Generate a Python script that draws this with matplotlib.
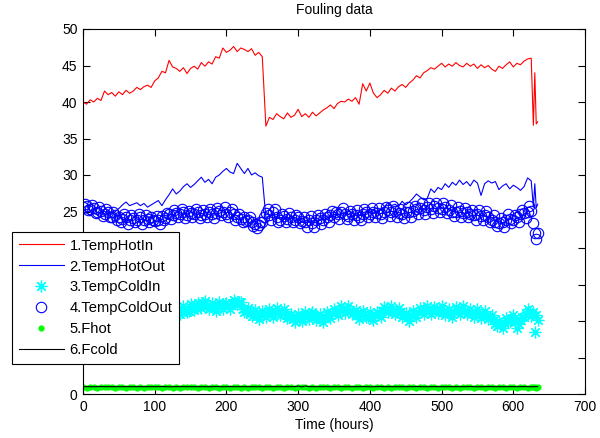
import numpy as np
import matplotlib
matplotlib.use("Agg")
import matplotlib.pyplot as plt

plt.rcParams['font.family'] = ['Liberation Sans', 'DejaVu Sans']
plt.rcParams['font.size'] = 10

# Temps de mesure (heures) : pas de 5 h, puis plus fin à la fin de l'essai
hours = list(range(0, 626, 5)) + [628, 630, 632, 634]
# Relevés intermédiaires (toutes les 5 h, décalés de 2.5 h) pour les séries à marqueurs
hours_mid = [h + 2.5 for h in range(0, 625, 5)]

temp_hot_in = [
    40.0, 39.7, 40.3, 40.0, 40.5, 40.2, 41.5, 41.0, 41.3, 40.8,
    41.4, 41.0, 41.6, 41.2, 41.5, 42.0, 41.7, 42.1, 42.3, 42.0,
    42.9, 43.3, 44.2, 44.0, 45.7, 44.8, 44.6, 44.2, 44.7, 43.9,
    44.6, 44.9, 44.5, 45.4, 44.9, 45.5, 45.2, 46.2, 46.0, 47.4,
    46.8, 47.1, 47.6, 46.9, 47.4, 47.2, 46.9, 47.3, 46.4, 46.8,
    46.2, 36.7, 37.9, 37.6, 38.4, 38.0, 37.7, 38.5, 37.9, 38.2,
    39.0, 38.0, 38.4, 37.9, 38.6, 38.1, 38.5, 38.9, 39.2, 39.6,
    39.1, 39.8, 40.1, 40.0, 40.4, 40.1, 40.6, 39.7, 42.5, 41.5,
    42.6, 41.2, 40.6, 41.0, 41.6, 41.2, 41.9, 41.5, 42.1, 42.4,
    42.0, 42.6, 43.0, 43.6, 43.3, 44.0, 44.3, 44.7, 44.5, 44.9,
    45.3, 44.8, 45.2, 44.9, 45.4, 45.0, 44.8, 45.3, 44.9, 45.2,
    44.6, 45.1, 44.7, 45.0, 44.5, 44.2, 44.9, 44.6, 45.1, 45.5,
    44.8, 45.3, 45.1, 45.6, 45.9, 46.0, 36.8, 44.0, 37.0, 37.3,
]

temp_hot_out = [
    24.6, 24.9, 24.4, 24.8, 24.5, 25.0, 24.7, 25.1, 24.6, 25.0,
    25.4, 25.9, 26.3, 25.8, 26.0, 26.2, 25.8, 26.1, 25.6, 25.9,
    26.2, 26.5, 25.8, 26.6, 27.3, 28.1, 27.4, 27.8, 28.4, 28.8,
    28.3, 28.7, 29.2, 29.7, 29.0, 29.4, 28.8, 29.7, 30.0, 30.5,
    30.9, 30.4, 30.2, 31.6, 30.9, 30.2, 30.9, 30.0, 30.3, 29.9,
    29.7, 24.2, 24.3, 24.6, 24.0, 24.2, 24.1, 23.8, 24.4, 24.0,
    23.9, 23.5, 23.8, 23.6, 23.7, 24.1, 23.9, 24.0, 24.4, 24.3,
    24.6, 24.5, 24.7, 24.8, 24.6, 24.9, 24.7, 24.5, 24.8, 25.0,
    24.9, 25.3, 25.0, 25.2, 25.6, 26.2, 25.8, 26.0, 25.7, 26.4,
    25.9, 26.3, 26.8, 27.4, 27.0, 26.6, 26.8, 28.1, 27.6, 28.3,
    28.0, 28.8, 28.3, 29.0, 28.6, 29.3, 28.7, 29.1, 28.5, 29.3,
    28.9, 27.2, 28.8, 29.2, 28.9, 29.1, 28.0, 28.5, 28.8, 28.1,
    28.6, 28.3, 27.9, 28.4, 29.6, 29.2, 25.6, 28.8, 25.5, 26.0,
]

temp_cold_in = [
    11.8, 10.9, 11.9, 11.0, 12.1, 11.2, 11.7, 10.8, 11.9, 11.1,
    11.8, 10.7, 11.6, 10.9, 12.0, 11.3, 11.9, 10.8, 11.6, 11.0,
    11.8, 10.9, 12.1, 11.2, 11.7, 10.8, 11.9, 11.0, 12.0, 11.2,
    12.3, 11.5, 12.5, 11.8, 12.7, 11.6, 12.4, 11.4, 12.6, 11.7,
    12.5, 11.6, 12.9, 12.3, 12.6, 11.2, 11.8, 10.7, 11.5, 10.3,
    11.4, 10.5, 11.6, 10.6, 11.8, 10.8, 11.6, 10.4, 11.0, 9.8,
    10.9, 10.0, 11.2, 10.3, 11.3, 10.2, 11.0, 9.9, 11.2, 10.4,
    11.6, 10.8, 12.0, 11.1, 12.1, 11.0, 11.5, 10.3, 11.4, 10.5,
    11.2, 10.1, 11.3, 10.6, 11.9, 11.2, 12.1, 11.0, 11.8, 10.6,
    11.1, 10.0, 11.4, 10.5, 11.8, 11.0, 12.0, 10.9, 11.9, 11.1,
    12.0, 10.8, 11.7, 10.6, 11.9, 11.0, 12.0, 10.9, 11.7, 10.5,
    11.6, 10.4, 11.4, 10.3, 10.8, 9.6, 10.0, 9.0, 10.4, 10.0,
    10.8, 9.0, 10.2, 10.6, 11.6, 10.7, 11.2, 8.5, 10.8, 10.2,
]
temp_cold_in_mid = [
    11.4, 11.5, 11.3, 11.6, 11.5, 11.2, 11.4, 11.5, 11.3, 11.6,
    11.2, 11.4, 11.3, 11.6, 11.5, 11.6, 11.3, 11.2, 11.4, 11.5,
    11.3, 11.6, 11.5, 11.4, 11.2, 11.4, 11.5, 11.3, 11.7, 11.4,
    11.7, 12.2, 11.9, 12.4, 12.0, 12.1, 11.8, 12.2, 11.9, 12.3,
    12.1, 12.4, 12.5, 12.6, 11.7, 11.4, 11.0, 11.2, 10.7, 10.9,
    11.1, 10.9, 11.2, 11.3, 11.1, 11.3, 10.8, 10.6, 10.3, 10.5,
    10.3, 10.7, 10.6, 10.9, 10.7, 10.6, 10.3, 10.5, 10.8, 11.1,
    11.3, 11.5, 11.7, 11.6, 11.4, 11.2, 10.9, 10.8, 10.9, 10.6,
    10.5, 10.8, 11.0, 11.4, 11.6, 11.5, 11.4, 11.3, 11.1, 10.8,
    10.5, 10.8, 11.0, 11.2, 11.4, 11.6, 11.4, 11.5, 11.6, 11.5,
    11.3, 11.2, 11.1, 11.3, 11.5, 11.4, 11.4, 11.2, 11.1, 11.0,
    11.0, 10.9, 10.7, 10.5, 10.2, 9.3, 9.6, 9.7, 10.2, 10.3,
    9.8, 9.6, 10.5, 11.1, 11.2,
]

temp_cold_out = [
    25.6, 25.8, 25.3, 25.5, 24.9, 25.1, 24.7, 24.9, 24.3, 24.5,
    24.2, 24.0, 24.3, 23.8, 24.1, 23.9, 24.2, 23.8, 24.0, 24.3,
    23.7, 23.9, 24.4, 24.1, 24.7, 24.5, 24.8, 24.6, 24.9, 24.5,
    24.8, 24.6, 24.9, 24.5, 24.7, 24.9, 24.6, 24.8, 25.1, 25.0,
    24.7, 25.0, 24.6, 24.2, 24.0, 24.3, 23.8, 23.6, 23.3, 23.1,
    23.5, 24.8, 24.5, 24.9, 24.2, 23.9, 24.4, 24.0, 24.2, 23.9,
    24.3, 23.7, 23.5, 23.8, 23.4, 23.9, 24.1, 23.8, 24.2, 24.5,
    24.3, 24.7, 24.9, 24.6, 24.4, 24.7, 24.5, 24.3, 24.6, 24.9,
    24.7, 25.0, 24.8, 24.6, 24.9, 25.2, 25.0, 25.1, 24.8, 24.7,
    25.0, 24.9, 25.1, 25.3, 25.5, 25.2, 25.6, 25.4, 25.7, 25.5,
    25.4, 25.6, 25.2, 25.0, 24.9, 25.1, 24.8, 24.9, 24.6, 24.5,
    24.7, 24.4, 24.5, 24.2, 23.9, 23.6, 23.4, 23.6, 23.9, 24.0,
    23.8, 24.2, 24.6, 24.8, 25.0, 25.1, 23.4, 22.1, 21.3, 22.0,
]
temp_cold_out_mid = [
    26.0, 25.2, 25.9, 24.8, 25.6, 24.4, 25.4, 24.2, 24.9, 23.9,
    23.6, 24.6, 23.3, 24.5, 23.5, 24.6, 23.3, 24.5, 23.6, 23.8,
    24.4, 23.3, 23.9, 24.8, 24.0, 25.2, 24.2, 25.3, 24.1, 25.1,
    24.2, 25.3, 24.1, 25.2, 24.2, 25.4, 24.1, 25.5, 24.5, 25.6,
    24.3, 25.4, 23.8, 24.7, 23.5, 23.7, 24.2, 23.0, 22.8, 23.6,
    24.3, 25.4, 23.9, 25.3, 23.6, 24.7, 23.5, 24.8, 23.5, 24.5,
    23.4, 24.3, 22.9, 24.4, 22.9, 24.5, 23.3, 24.6, 23.5, 25.1,
    25.0, 24.0, 25.5, 24.0, 25.1, 23.9, 25.2, 23.8, 25.3, 24.2,
    25.5, 24.2, 25.5, 24.1, 25.6, 24.4, 25.7, 24.3, 25.4, 24.1,
    25.6, 24.3, 25.8, 24.7, 26.1, 24.6, 26.2, 24.8, 26.2, 24.9,
    26.1, 24.8, 25.9, 24.4, 25.6, 24.3, 25.5, 24.2, 25.2, 23.9,
    25.2, 23.8, 25.1, 23.5, 24.5, 23.0, 24.1, 22.9, 24.6, 23.4,
    24.5, 23.6, 25.2, 24.1, 25.7,
]

f_hot = [
    0.95, 0.88, 0.97, 0.92, 0.86, 0.96, 0.90, 0.97, 0.93, 0.87,
    0.96, 0.91, 0.88, 0.97, 0.94, 0.89, 0.96, 0.86, 0.93, 0.97,
    0.90, 0.96, 0.88, 0.95, 0.97, 0.89, 0.94, 0.86, 0.96, 0.91,
    0.97, 0.93, 0.88, 0.96, 0.92, 0.86, 0.95, 0.97, 0.89, 0.96,
    0.91, 0.88, 0.97, 0.94, 0.89, 0.96, 0.86, 0.93, 0.97, 0.90,
    0.88, 0.96, 0.93, 0.89, 0.97, 0.91, 0.86, 0.96, 0.94, 0.88,
    0.97, 0.91, 0.96, 0.89, 0.94, 0.86, 0.97, 0.90, 0.96, 0.88,
    0.95, 0.97, 0.89, 0.96, 0.91, 0.86, 0.94, 0.97, 0.89, 0.96,
    0.92, 0.88, 0.97, 0.93, 0.89, 0.96, 0.86, 0.94, 0.97, 0.90,
    0.88, 0.96, 0.93, 0.89, 0.97, 0.91, 0.86, 0.96, 0.94, 0.88,
    0.97, 0.91, 0.96, 0.89, 0.94, 0.86, 0.97, 0.90, 0.96, 0.88,
    0.95, 0.97, 0.89, 0.96, 0.91, 0.86, 0.94, 0.97, 0.89, 0.96,
    0.92, 0.88, 0.97, 0.93, 0.89, 0.96, 0.91, 0.95, 0.89, 0.94,
]

f_cold = [
    1.00, 1.01, 1.00, 0.99, 1.00, 1.02, 1.00, 1.00, 1.01, 1.00,
    0.99, 1.00, 1.00, 1.01, 1.00, 1.00, 0.99, 1.00, 1.01, 1.00,
    1.00, 1.00, 1.02, 1.00, 0.99, 1.00, 1.00, 1.01, 1.00, 1.00,
    1.00, 0.99, 1.00, 1.01, 1.00, 1.00, 1.00, 1.02, 1.00, 0.99,
    1.00, 1.01, 1.00, 1.00, 1.00, 0.99, 1.00, 1.01, 1.00, 1.00,
    1.00, 1.00, 1.01, 1.00, 0.99, 1.00, 1.00, 1.00, 1.01, 1.00,
    1.08, 0.97, 1.10, 1.00, 1.00, 0.99, 1.00, 1.01, 1.00, 1.00,
    1.00, 1.00, 0.99, 1.00, 1.01, 1.00, 1.00, 1.00, 1.02, 1.00,
    0.99, 1.00, 1.00, 1.01, 1.00, 1.00, 1.00, 0.99, 1.00, 1.01,
    1.00, 1.00, 1.00, 1.02, 1.00, 0.99, 1.00, 1.00, 1.01, 1.00,
    1.00, 1.00, 0.99, 1.00, 1.01, 1.00, 1.00, 1.00, 1.02, 1.00,
    0.99, 1.00, 1.00, 1.01, 1.00, 1.00, 1.00, 0.99, 1.00, 1.01,
    1.00, 1.00, 1.00, 1.02, 1.00, 0.99, 1.00, 1.00, 1.01, 1.00,
]

labels = ['1.TempHotIn', '2.TempHotOut', '3.TempColdIn',
          '4.TempColdOut', '5.Fhot', '6.Fcold']

fig = plt.figure(figsize=(6, 4.38), dpi=100)
ax = fig.add_axes([83 / 600, 44 / 438, 502 / 600, 365 / 438])

ax.plot(hours, temp_hot_in, color='#ff0000', lw=0.8, label=labels[0])
ax.plot(hours, temp_hot_out, color='#0000ff', lw=0.8, label=labels[1])
ax.plot(hours + hours_mid, temp_cold_in + temp_cold_in_mid, ls='none',
        marker=(8, 2, 0), ms=8.5, mew=0.9, color='#00ffff', label=labels[2])
ax.plot(hours + hours_mid, temp_cold_out + temp_cold_out_mid, ls='none',
        marker='o', ms=7.5, mew=0.8, mfc='none', mec='#0000ff', label=labels[3])
ax.plot(hours, f_hot, ls='none', marker='o', ms=4.5, mew=0,
        color='#00ff00', label=labels[4])
ax.plot(hours, f_cold, color='black', lw=0.8, label=labels[5])

ax.set_xlim(0, 700)
ax.set_ylim(0, 50)
ax.set_xticks(range(0, 701, 100))
ax.set_yticks(range(0, 51, 5))
ax.tick_params(direction='in', length=5, top=True, right=True, width=0.8,
               labelsize=10, pad=4)
for sp in ax.spines.values():
    sp.set_linewidth(0.8)

ax.set_title("Fouling data", fontsize=10, pad=11)
ax.set_xlabel("Time (hours)", fontsize=10, labelpad=3)

leg = ax.legend(loc='upper left', bbox_to_anchor=(12 / 600, 1 - 232 / 438),
                bbox_transform=fig.transFigure, borderaxespad=0,
                fontsize=10.6, numpoints=1, handlelength=3.1,
                handletextpad=0.35, labelspacing=0.47, borderpad=0.45,
                fancybox=False, framealpha=1, edgecolor='black')
leg.get_frame().set_linewidth(0.8)

fig.savefig("out.png", dpi=100)
